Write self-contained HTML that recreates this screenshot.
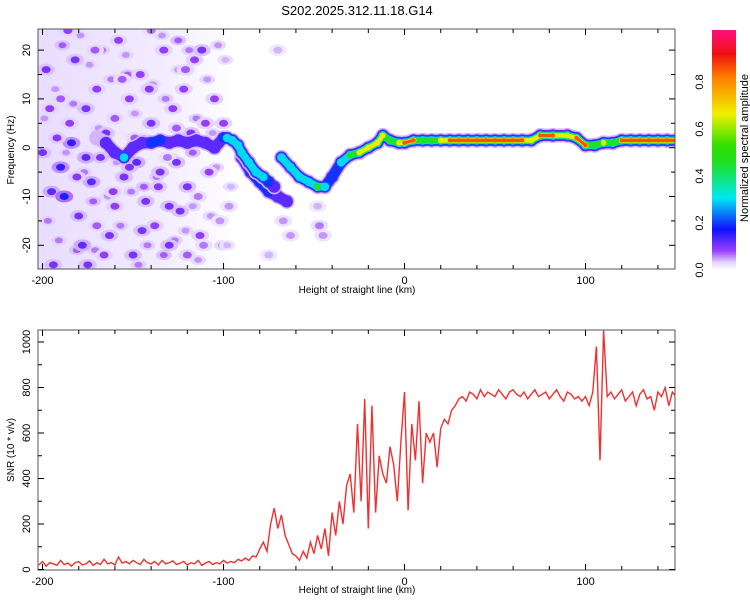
<!DOCTYPE html>
<html><head><meta charset="utf-8"><style>
html,body{margin:0;padding:0;background:#fff;}
svg{display:block;font-family:"Liberation Sans",sans-serif;}
</style></head><body>
<svg id="chart" width="750" height="600" viewBox="0 0 750 600">
<text x="357" y="15" text-anchor="middle" font-size="13">S202.2025.312.11.18.G14</text>
<defs>
<linearGradient id="cbg" x1="0" y1="1" x2="0" y2="0">
<stop offset="0" stop-color="#ffffff"/><stop offset="0.03" stop-color="#e6d8ff"/><stop offset="0.08" stop-color="#9a40ff"/>
<stop offset="0.17" stop-color="#1010ff"/><stop offset="0.3" stop-color="#00e8f0"/><stop offset="0.45" stop-color="#20e020"/>
<stop offset="0.52" stop-color="#30e000"/><stop offset="0.65" stop-color="#f0f000"/><stop offset="0.8" stop-color="#ff8000"/>
<stop offset="0.9" stop-color="#f01010"/><stop offset="1" stop-color="#ff1080"/>
</linearGradient>
<linearGradient id="hazeG" x1="0" y1="0" x2="1" y2="0">
<stop offset="0" stop-color="#e4d4ff"/><stop offset="0.6" stop-color="#efe6ff"/><stop offset="1" stop-color="#ffffff"/>
</linearGradient>
<clipPath id="clipTop"><rect x="38" y="29" width="637" height="240"/></clipPath>
<clipPath id="clipBot"><rect x="38" y="330" width="637" height="240"/></clipPath>
</defs>
<g id="topMarks" clip-path="url(#clipTop)"></g>
<g id="botMarks" clip-path="url(#clipBot)"></g>
<g id="axes"></g>
<rect x="712" y="30" width="24" height="240" fill="url(#cbg)"/>
<text transform="translate(748,148) rotate(-90)" x="0" y="0" text-anchor="middle" font-size="11">Normalized spectral amplitude</text>
<text transform="rotate(-90 14 150)" x="14" y="150" text-anchor="middle" font-size="10">Frequency (Hz)</text>
<text transform="rotate(-90 14 450)" x="14" y="450" text-anchor="middle" font-size="10">SNR (10 * v/v)</text>
<text x="357" y="293" text-anchor="middle" font-size="10">Height of straight line (km)</text>
<text x="357" y="593" text-anchor="middle" font-size="10">Height of straight line (km)</text>
</svg>
<script>
// ---- data ----
const xTicks = [-200, -100, 0, 100];
const freqTicks = [-20, -10, 0, 10, 20];
const snrTicks = [0, 200, 400, 600, 800, 1000];
const cbTicks = [0.0, 0.2, 0.4, 0.6, 0.8];
const ridgeAKm = [-170,-165,-160,-155,-150,-145,-140,-135,-130,-125,-120,-115,-110,-105,-100,-98,-95,-92,-90,-86,-82,-78,-75,-72];
const ridgeAHz = [2,1,-1,-2,0,1,1,1.5,1,1.5,1,1.5,1,0,2,2,1.5,0.5,-1,-3,-5,-6,-7,-8];
const ridgeAAmp = [0.07,0.1,0.12,0.3,0.09,0.12,0.2,0.16,0.1,0.09,0.09,0.09,0.1,0.12,0.2,0.25,0.3,0.25,0.3,0.25,0.26,0.25,0.22,0.12];
const ridgeBKm = [-68,-63,-58,-53,-48,-44,-40,-35,-30,-25,-20,-15,-12,-8,-3,0,5,10,15,20,25,30,35,40,45,50,55,60,65,70,75,82,90,95,100,105,110,115,120,125,130,135,140,145,150];
const ridgeBHz = [-2,-4,-6,-7,-8,-8,-6,-3,-1.5,-1,0,1,2.5,1.5,1,1,1.5,1.5,1.5,1.5,1.5,1.5,1.5,1.5,1.5,1.5,1.5,1.5,1.5,1.5,2.5,2.5,2.5,2,0.5,0.5,1,1,1.5,1.5,1.5,1.5,1.5,1.5,1.5];
const ridgeBAmp = [0.3,0.3,0.35,0.28,0.4,0.35,0.2,0.25,0.55,0.62,0.75,0.7,0.6,0.5,0.6,0.8,0.8,0.55,0.55,0.6,0.9,0.92,0.9,0.92,0.9,0.92,0.9,0.92,0.9,0.6,0.8,0.95,0.7,0.85,0.8,0.55,0.7,0.55,0.95,0.95,0.95,0.95,0.95,0.95,0.95];
const ridgeCKm = [-90,-85,-80,-75,-70,-65];
const ridgeCHz = [-2,-5,-7,-9,-10,-11];
const ridgeCAmp = [0.12,0.15,0.18,0.15,0.12,0.08];
const noiseKm = [-198,-195,-190,-188,-185,-182,-180,-178,-176,-173,-170,-168,-165,-163,-160,-158,-155,-152,-150,-148,-146,-143,-140,-138,-135,-133,-130,-128,-126,-124,-122,-120,-118,-116,-113,-110,-108,-105,-194,-186,-200,-175,-145,-130,-112,-176,-184,-152,-100,-140,-97,-190,-170,-160,-120,-70,-67,-63,-48,-47,-45,-75,-192,-166,-156,-136,-126,-114,-102,-196,-181,-171,-161,-149,-141,-131,-121,-111];
const noiseHz = [16,-9,-4,-10,5,18,-14,-20,8,-7,12,-2,3,-18,-12,22,-6,10,-22,-3,15,-11,5,-16,-5,20,-20,8,-3,-13,12,-8,3,18,-18,5,-5,10,-24,24,-1,-24,-17,-12,20,-2,1,-4,5,24,-12,10,-16,6,-22,20,-15,-18,-12,-16,-18,-22,2,-22,14,-8,4,-10,-15,8,-6,20,-9,2,12,-2,16,-20];
const noiseAmp = [0.1,0.12,0.15,0.18,0.08,0.1,0.1,0.12,0.1,0.12,0.08,0.1,0.1,0.1,0.08,0.08,0.1,0.08,0.1,0.12,0.08,0.1,0.1,0.08,0.1,0.08,0.1,0.08,0.1,0.1,0.08,0.1,0.1,0.08,0.08,0.08,0.08,0.08,0.1,0.08,0.1,0.1,0.1,0.1,0.1,0.12,0.15,0.1,0.08,0.06,0.05,0.07,0.07,0.07,0.07,0.04,0.05,0.05,0.04,0.06,0.05,0.04,0.09,0.08,0.07,0.09,0.07,0.06,0.05,0.08,0.09,0.07,0.08,0.07,0.09,0.06,0.07,0.06];
const lightKm = [-199,-197,-193,-191,-187,-183,-179,-177,-174,-171,-169,-167,-164,-162,-159,-157,-154,-151,-149,-147,-144,-142,-139,-137,-134,-132,-129,-127,-125,-123,-121,-119,-117,-115,-114,-109,-107,-104,-103,-101,-99,-96,-189,-181,-172,-153,-144,-133,-125,-117,-106,-98];
const lightHz = [6,-15,12,-19,-1,9,23,-5,17,-21,4,20,-10,14,-3,-16,19,-9,7,-24,2,-20,13,-6,23,10,-2,-19,16,1,-17,20,-12,6,-23,14,-14,-4,21,-20,18,-8,21,-21,-11,15,-8,-22,22,-1,3,-20];
const lightAmp = [0.05,0.06,0.05,0.06,0.05,0.06,0.05,0.06,0.05,0.06,0.05,0.06,0.05,0.06,0.05,0.06,0.05,0.06,0.05,0.06,0.05,0.06,0.05,0.06,0.05,0.06,0.05,0.06,0.05,0.06,0.05,0.06,0.05,0.06,0.05,0.05,0.05,0.05,0.05,0.05,0.04,0.04,0.07,0.07,0.07,0.07,0.07,0.07,0.07,0.07,0.05,0.04];
const snrStartKm = -202;
const snrStepKm = 2;
const snrValues = [20,35,15,30,25,18,40,22,28,15,30,35,20,25,38,18,30,22,45,25,30,20,55,28,35,25,40,30,22,45,30,25,35,20,40,25,30,38,22,28,35,20,30,25,40,18,28,35,22,30,25,40,28,35,30,45,38,50,40,60,55,
90,120,80,200,270,180,240,150,110,70,60,40,80,
50,120,70,150,90,180,60,250,
150,300,200,370,420,250,640,300,750,180,720,250,500,
420,380,540,460,300,560,780,260,640,480,740,380,600,560,
600,450,620,660,640,700,720,750,
760,740,780,770,750,790,760,780,770,760,790,770,750,780,790,770,760,780,750,770,790,760,770,780,750,770,790,760,740,780,
770,750,760,740,760,720,780,980,480,1050,760,780,750,770,790,740,760,780,720,770,790,750,760,700,780,760,800,720,780,760];

// ---- scales ----
const xS = km => 38 + (km + 202.5) * 1.81;
const yF = hz => 147.7 - hz * 4.88;
const yV = v => 569.5 - v * 0.2275;
const yC = a => 270 - a * 235;
const NS = "http://www.w3.org/2000/svg";
function mk(tag, parent, attrs){ const e=document.createElementNS(NS,tag); for(const k in attrs) e.setAttribute(k,attrs[k]); parent.appendChild(e); return e; }
function cmap(a){
  const st=[[0,[255,255,255]],[0.03,[225,210,255]],[0.08,[150,60,255]],[0.17,[20,20,255]],[0.3,[0,232,240]],[0.45,[32,224,32]],[0.65,[240,240,0]],[0.8,[255,128,0]],[0.9,[240,16,16]],[1,[255,16,128]]];
  for(let i=1;i<st.length;i++){ if(a<=st[i][0]){ const t=(a-st[i-1][0])/(st[i][0]-st[i-1][0]); const c=st[i-1][1].map((v,j)=>Math.round(v+(st[i][1][j]-v)*t)); return `rgb(${c.join(',')})`; } }
  return "rgb(255,16,128)";
}
const topG = document.getElementById('topMarks');
const botG = document.getElementById('botMarks');
const axesG = document.getElementById('axes');

const haze = mk('rect', topG, {x:xS(-203), y:29, width:xS(-92)-xS(-203), height:240, fill:'url(#hazeG)', opacity:0.8});



for(let i=0;i<lightKm.length;i++){
  const h = mk('ellipse', topG, {cx:xS(lightKm[i]), cy:yF(lightHz[i]), rx:8, ry:5, fill:cmap(lightAmp[i]*0.5)});
  
  
  const c = mk('ellipse', topG, {cx:xS(lightKm[i]), cy:yF(lightHz[i]), rx:4, ry:3, fill:cmap(lightAmp[i])});
  
  
}
for(let i=0;i<noiseKm.length;i++){
  const h = mk('ellipse', topG, {cx:xS(noiseKm[i]), cy:yF(noiseHz[i]), rx:9, ry:6, fill:cmap(noiseAmp[i]*0.35)});
  
  
}
for(let i=0;i<noiseKm.length;i++){
  const b = mk('ellipse', topG, {cx:xS(noiseKm[i]), cy:yF(noiseHz[i]), rx:4.5, ry:3.5, fill:cmap(noiseAmp[i])});
  
  
}

const levels=[0.02,0.08,0.15,0.25,0.4,0.6,0.8];
const widths=[14,11,9,7.5,6,4.6,3.2];
function drawRidge(kms,hzs,amps,name){
  levels.forEach((lv,li)=>{
    const col=cmap(li===0?0.04:lv+0.04);
    for(let i=0;i<kms.length-1;i++){
      if(amps[i]>=lv && amps[i+1]>=lv){
        const l=mk('line', topG, {x1:xS(kms[i]),y1:yF(hzs[i]),x2:xS(kms[i+1]),y2:yF(hzs[i+1]),stroke:col,'stroke-width':widths[li],'stroke-linecap':'round'});
        
        
      }
    }
    for(let i=0;i<kms.length;i++){
      if(amps[i]>=lv){
        const c=mk('circle', topG, {cx:xS(kms[i]),cy:yF(hzs[i]),r:widths[li]/2+0.6,fill:col});
        
        
      }
    }
  });
}
drawRidge(ridgeCKm,ridgeCHz,ridgeCAmp,'ridge-lower');
drawRidge(ridgeAKm,ridgeAHz,ridgeAAmp,'ridge-left');
drawRidge(ridgeBKm,ridgeBHz,ridgeBAmp,'ridge-main');

const pts = snrValues.map((v,i)=>`${xS(snrStartKm+i*snrStepKm).toFixed(1)},${yV(v).toFixed(1)}`).join(' ');
const line = mk('polyline', botG, {points:pts, fill:'none', stroke:'#f03030','stroke-width':1.4});



function frame(y0,y1,yScale,yTicksMajor,yMinorStep,yMin,yMax,pfx){
  const f=mk('rect', axesG, {x:38,y:y0,width:637,height:y1-y0,fill:'none',stroke:'#555','stroke-width':1});
  
  
  for(let k=-200;k<=140;k+=20){
    const X=xS(k), L=(k%100===0)?6:4;
    const t1=mk('line', axesG, {x1:X,y1:y1,x2:X,y2:y1-L,stroke:'#000'});
    
    
    const t2=mk('line', axesG, {x1:X,y1:y0,x2:X,y2:y0+L,stroke:'#000'});
    
    
  }
  xTicks.forEach(k=>{
    const t=mk('text', axesG, {x:xS(k),y:y1+15,'text-anchor':'middle','font-size':11});
    t.textContent=String(k);
    
    
  });
  for(let v=yMin; v<=yMax; v+=yMinorStep){
    const Y=yScale(v); const L=yTicksMajor.includes(v)?6:4;
    const a=mk('line', axesG, {x1:38,y1:Y,x2:38+L,y2:Y,stroke:'#000'});
    
    
    const b=mk('line', axesG, {x1:675,y1:Y,x2:675-L,y2:Y,stroke:'#000'});
    
    
  }
  yTicksMajor.forEach(v=>{
    const Y=yScale(v);
    const t=mk('text', axesG, {x:0,y:0,'text-anchor':'middle','font-size':11,transform:`translate(30,${Y}) rotate(-90)`});
    t.textContent=String(v);
    
    
  });
}
frame(29,269,yF,freqTicks,5,-20,20,'top');
frame(330,570,yV,snrTicks,100,0,1000,'bottom');

cbTicks.forEach(v=>{
  const t=mk('text', axesG, {x:0,y:0,'text-anchor':'middle','font-size':11,transform:`translate(703,${yC(v)}) rotate(-90)`});
  t.textContent=v.toFixed(1);
  
  
});
</script>
</body></html>
